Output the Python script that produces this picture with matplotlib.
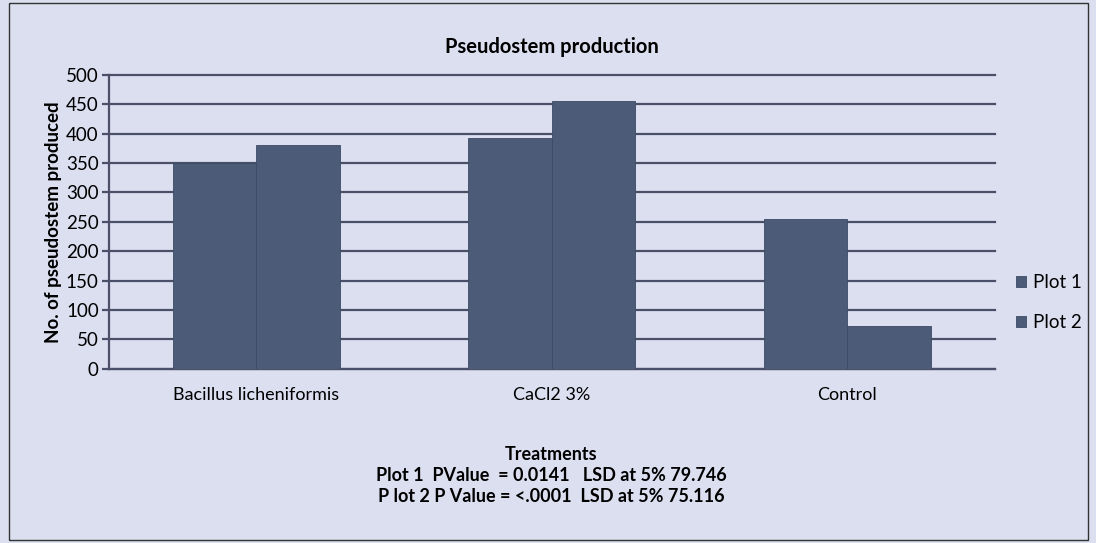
import numpy as np
import matplotlib
matplotlib.use("Agg")
import matplotlib.pyplot as plt
from matplotlib.patches import Rectangle

treatments = ["Bacillus licheniformis", "CaCl2 3%", "Control"]
plot1 = [350, 392, 255]
plot2 = [380, 456, 73]
series_names = ["Plot 1", "Plot 2"]
yticks = [0, 50, 100, 150, 200, 250, 300, 350, 400, 450, 500]

BG = "#dcdff0"
BAR = "#4b5b78"
GRID = "#4a5068"

plt.rcParams["font.family"] = ["Lato", "DejaVu Sans"]

fig = plt.figure(figsize=(10.96, 5.43), dpi=100)
fig.patch.set_facecolor(BG)
fig.patches.append(Rectangle((0.008, 0.005), 0.985, 0.99, transform=fig.transFigure,
                             fill=False, edgecolor="#333333", lw=1.0))

ax = fig.add_axes([0.099, 0.321, 0.809, 0.541])
ax.set_facecolor(BG)

x = np.arange(len(treatments))
w = 0.283
ax.bar(x - w / 2, plot1, width=w, color=BAR, edgecolor="#3c4a63", lw=0.6,
       label=series_names[0], zorder=3)
ax.bar(x + w / 2, plot2, width=w, color=BAR, edgecolor="#3c4a63", lw=0.6,
       label=series_names[1], zorder=3)

ax.set_xlim(-0.5, 2.5)
ax.set_ylim(0, 500)
ax.set_yticks(yticks)
ax.yaxis.grid(True, color=GRID, lw=1.6, zorder=1)
for gl in ax.get_ygridlines():
    gl.set_clip_on(False)
ax.set_axisbelow(True)
for s in ["top", "right"]:
    ax.spines[s].set_visible(False)
ax.spines["left"].set_color(GRID)
ax.spines["left"].set_linewidth(1.6)
ax.spines["bottom"].set_color(GRID)
ax.spines["bottom"].set_linewidth(1.6)
ax.tick_params(axis="y", direction="out", length=5, width=1.6, color=GRID,
               labelsize=13.5, pad=2)
ax.tick_params(axis="x", length=0, labelsize=13, pad=13)
ax.set_xticks(x)
ax.set_xticklabels(treatments)

ax.set_ylabel("No. of pseudostem produced", fontsize=13.5, fontweight="bold", labelpad=3)
ax.set_title("Pseudostem production", fontsize=14.5, fontweight="bold", pad=16)

fig.text(0.503, 0.152, "Treatments", ha="center", fontsize=13, fontweight="bold")
fig.text(0.503, 0.114, "Plot 1  PValue  = 0.0141   LSD at 5% 79.746", ha="center",
         fontsize=13, fontweight="bold")
fig.text(0.503, 0.076, "P lot 2 P Value = <.0001  LSD at 5% 75.116", ha="center",
         fontsize=13, fontweight="bold")

ax.legend(loc="center left", bbox_to_anchor=(1.004, 0.225), frameon=False, fontsize=13.5,
          handlelength=0.55, handleheight=0.55, handletextpad=0.4, labelspacing=1.2)

fig.savefig("out.png", dpi=100, facecolor=BG)
